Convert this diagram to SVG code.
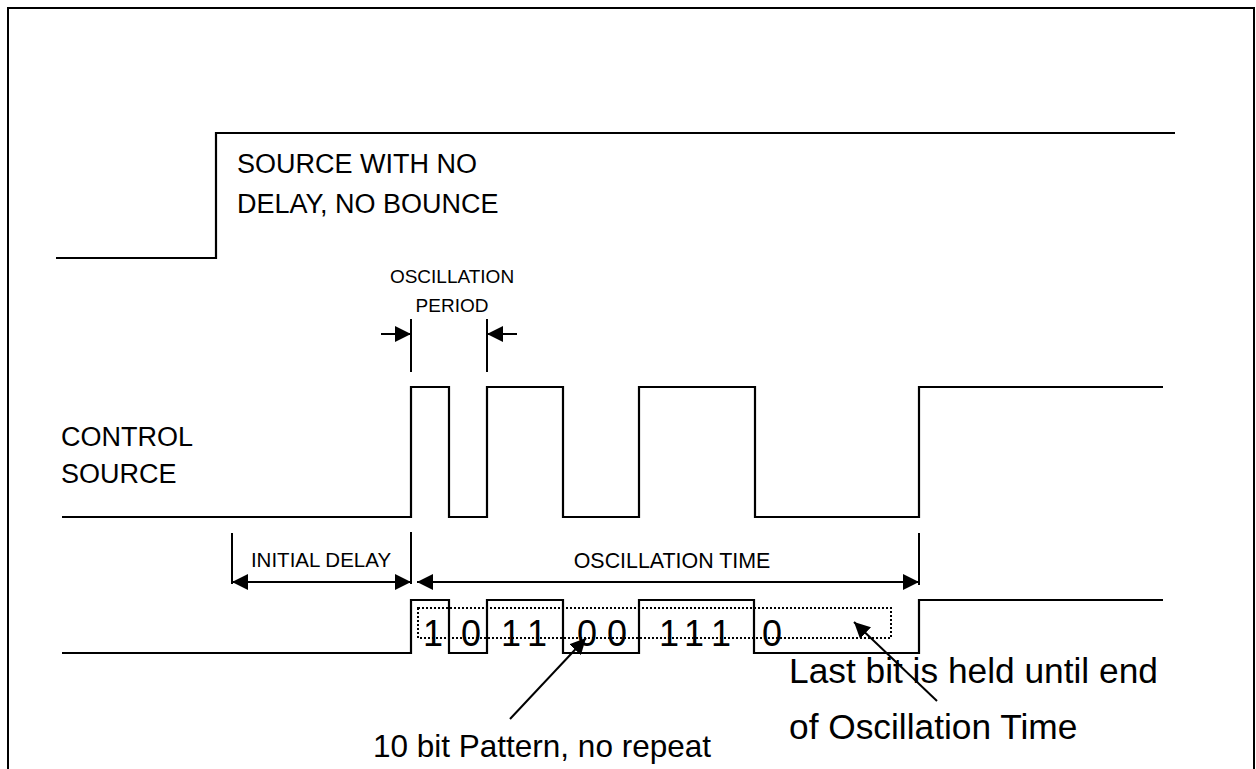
<svg xmlns="http://www.w3.org/2000/svg" width="1256" height="769" viewBox="0 0 1256 769">
<style>
.sig{fill:none;stroke:#000;stroke-width:2.2;stroke-linejoin:miter}
.ln{fill:none;stroke:#000;stroke-width:2}
.t{font-family:"Liberation Sans",Arial,sans-serif;fill:#000}
.dot{fill:none;stroke:#000;stroke-width:2;stroke-dasharray:2 2}
</style>
<defs>
<marker id="ah" markerUnits="userSpaceOnUse" markerWidth="18" markerHeight="16" refX="16" refY="8" orient="auto-start-reverse">
<path d="M0,0 L16,8 L0,16 Z" fill="#000"/>
</marker>
</defs>
<rect width="1256" height="769" fill="#fff"/>
<rect x="8" y="8" width="1246" height="800" fill="none" stroke="#000" stroke-width="2"/>

<g id="source-no-delay">
<polyline class="sig" points="56,258 216,258 216,133 1175,133"/>
<text class="t" x="237" y="173" font-size="27">SOURCE WITH NO</text>
<text class="t" x="237" y="213" font-size="27">DELAY, NO BOUNCE</text>
</g>

<g id="control-source">
<polyline class="sig" points="62,517 411,517 411,387 449,387 449,517 487,517 487,387 563,387 563,517 639,517 639,387 755,387 755,517 919,517 919,387 1163,387"/>
<text class="t" x="61" y="446" font-size="27">CONTROL</text>
<text class="t" x="61" y="483" font-size="27">SOURCE</text>
</g>

<g id="oscillation-period">
<text class="t" x="452" y="283" font-size="19" text-anchor="middle">OSCILLATION</text>
<text class="t" x="452" y="312" font-size="19" text-anchor="middle">PERIOD</text>
<line class="ln" x1="411" y1="319" x2="411" y2="372"/>
<line class="ln" x1="487" y1="319" x2="487" y2="372"/>
</g>

<g id="initial-delay">
<line class="ln" x1="232" y1="533" x2="232" y2="584"/>
<line class="ln" x1="411" y1="532" x2="411" y2="584"/>
<text class="t" x="321" y="567" font-size="20.5" text-anchor="middle">INITIAL DELAY</text>
</g>

<g id="oscillation-time">
<line class="ln" x1="919" y1="533" x2="919" y2="585"/>
<text class="t" x="672" y="568" font-size="21.4" text-anchor="middle">OSCILLATION TIME</text>
</g>

<g id="pattern-signal">
<polyline class="sig" points="62,653 411,653 411,600 449,600 449,653 487,653 487,600 563,600 563,653 639,653 639,600 754,600 754,653 919,653 919,600 1163,600"/>
<rect class="dot" x="418" y="608" width="473" height="30"/>
<g class="t" font-size="36" text-anchor="middle">
<text x="433" y="646">1</text>
<text x="471" y="646">0</text>
<text x="511" y="646">1</text>
<text x="537" y="646">1</text>
<text x="587" y="646">0</text>
<text x="617" y="646">0</text>
<text x="669" y="646">1</text>
<text x="694" y="646">1</text>
<text x="721" y="646">1</text>
<text x="772" y="646">0</text>
</g>
</g>

<g id="label-pattern">
<text class="t" x="373" y="757" font-size="31.5">10 bit Pattern, no repeat</text>
</g>

<g id="label-last-bit">
<text class="t" x="789" y="683" font-size="35.3">Last bit is held until end</text>
<text class="t" x="789" y="739" font-size="35.3">of Oscillation Time</text>
</g>

<g id="connectors">
<line class="ln" x1="381" y1="334" x2="411" y2="334" marker-end="url(#ah)"/>
<line class="ln" x1="517" y1="334" x2="487" y2="334" marker-end="url(#ah)"/>
<line class="ln" x1="232" y1="582" x2="411" y2="582" marker-start="url(#ah)" marker-end="url(#ah)"/>
<line class="ln" x1="417" y1="582" x2="919" y2="582" marker-start="url(#ah)" marker-end="url(#ah)"/>
<line class="ln" x1="510" y1="719" x2="586" y2="638" marker-end="url(#ah)"/>
<line class="ln" x1="937" y1="701" x2="854" y2="622" marker-end="url(#ah)"/>
</g>
</svg>
